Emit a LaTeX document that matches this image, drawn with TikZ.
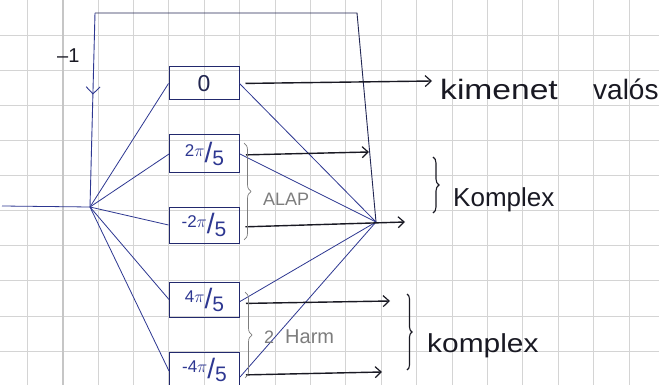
\documentclass[tikz,border=0pt]{standalone}
\usepackage{fontspec}
\setmainfont{Liberation Sans}
\usetikzlibrary{arrows.meta,decorations.pathreplacing,decorations.markings,calc}
\definecolor{ink}{RGB}{45,55,145}
\definecolor{pen}{RGB}{25,25,35}
\definecolor{gridc}{RGB}{212,212,212}
\definecolor{pencil}{RGB}{125,125,125}
\newcommand\myfrac[1]{\raisebox{6pt}{\fontsize{17}{17}\selectfont #1}{\fontsize{28}{28}\selectfont /}\raisebox{-3pt}{\fontsize{21}{21}\selectfont 5}}
\begin{document}
\begin{tikzpicture}[x=1pt,y=-1pt,
  wire/.style={ink, line width=0.8pt},
  outarrow/.style={pen, line width=1.4pt, -{Straight Barb[length=6pt,width=11pt,line width=1.2pt]}, shorten <=6pt},
  box/.style={draw=ink!75!black, line width=1pt, minimum width=70pt, inner sep=0pt, text=ink},
  bigbrace/.style={pen, line width=1.1pt, decorate, decoration={brace, amplitude=6pt}},
  smallbrace/.style={pencil, line width=0.7pt, decorate, decoration={brace, amplitude=7pt}},
  lbl/.style={anchor=base west, inner sep=0pt, text=pen}]
\useasboundingbox (0,0) rectangle (659,385);
\clip (0,0) rectangle (659,385);
\fill[white] (0,0) rectangle (659,385);
% grid paper
\foreach \k in {0,...,18} \draw[gridc, line width=0.6pt] ({27+35.4*\k},0) -- ({27+35.4*\k},385);
\foreach \k in {0,...,10} \draw[gridc, line width=0.6pt] (0,{35+35.1*\k}) -- (659,{35+35.1*\k});
\draw[gray!45, line width=1.6pt] (63,0) -- (63,385);

% coordinates
\coordinate (in) at (2,206);
\coordinate (src) at (90,207);
\coordinate (tl) at (95,13);
\coordinate (tr) at (357,13);
\coordinate (sum) at (376,222);
\coordinate (a0) at (432,81);
\coordinate (a1) at (369,152);
\coordinate (a2) at (405,222);
\coordinate (a3) at (390,301);
\coordinate (a4) at (382,372);

% boxes
\node[box, minimum height=33pt, text=pen!60!ink, font=\fontsize{23}{23}\selectfont] (b0) at (204,83.5) {0};
\node[box, minimum height=38pt] (b1) at (204.5,154) {\myfrac{2$\pi$}};
\node[box, minimum height=36pt] (b2) at (204,225) {\myfrac{-2$\pi$}};
\node[box, minimum height=35pt] (b3) at (204.5,299.5) {\myfrac{4$\pi$}};
\node[box, minimum height=38pt] (b4) at (204.5,371) {\raisebox{5pt}{\myfrac{-4$\pi$}}};

% input and feedback loop
\draw[wire] (in) -- (src);
\draw[line width=0.9pt, pen!55!ink] (sum) -- (tr) -- (tl);
\draw[wire, line width=0.9pt, postaction={decorate}, decoration={markings, mark=at position 0.42 with {\arrow{Straight Barb[length=7pt,width=14pt,line width=0.9pt]}}}] (tl) -- (src);

% fan out
\foreach \b in {b0,b1,b2,b3,b4} \draw[wire] (src) -- (\b.west);

% fan in
\draw[wire] (b0.east) -- (sum);
\draw[wire] (b1.east) -- (sum);
\draw[wire] ($(b3.east)+(0,2)$) -- (sum);
\draw[wire] ($(b4.east)+(0,6)$) -- (sum);

% outputs
\draw[outarrow] (b0.east) -- (a0);
\draw[outarrow] ($(b1.east)+(0,1)$) -- (a1);
\draw[outarrow] ($(b2.east)+(0,2)$) -- (a2);
\draw[outarrow] ($(b3.east)+(0,4)$) -- (a3);
\draw[outarrow] ($(b4.east)+(0,4)$) -- (a4);

% braces
\draw[bigbrace] (433,157) -- (433,213);
\draw[bigbrace, decoration={brace, amplitude=5pt}] (407,294) -- (407,370);
\draw[smallbrace] (244,143) -- (244,240);
\draw[smallbrace] (245,292) -- (245,378);

% labels
\node[lbl, font=\fontsize{20}{20}\selectfont] (m1) at (57,63) {–1};
\node[lbl, font=\fontsize{28}{28}\selectfont] (t0) at (440,100) {\scalebox{1.2}[1]{kimenet}};
\node[lbl, font=\fontsize{28}{28}\selectfont] (t0b) at (593,100) {valós};
\node[lbl, font=\fontsize{26}{26}\selectfont] (t1) at (453,207) {Komplex};
\node[lbl, font=\fontsize{26}{26}\selectfont] (t2) at (427,352) {\scalebox{1.15}[1]{komplex}};
\node[lbl, text=pencil, font=\fontsize{18}{18}\selectfont] (t3) at (263,206) {ALAP};
\node[lbl, text=pencil, font=\fontsize{18}{18}\selectfont] (t4) at (264,343) {2};
\node[lbl, text=pencil, font=\fontsize{20}{20}\selectfont] (t5) at (285,343) {Harm};
\end{tikzpicture}
\end{document}
